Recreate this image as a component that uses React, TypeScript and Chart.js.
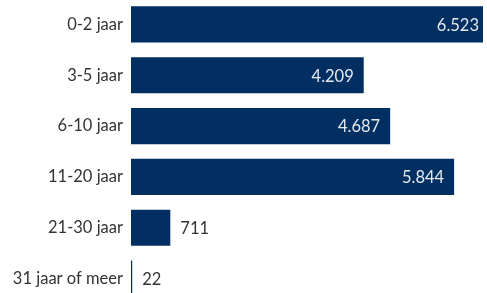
import React, { useEffect, useRef } from "react";
import { Chart, registerables } from "chart.js";

Chart.register(...registerables);

const categories = ["0-2 jaar", "3-5 jaar", "6-10 jaar", "11-20 jaar", "21-30 jaar", "31 jaar of meer"];
const values = [6523, 4209, 4687, 5844, 711, 22];
const valueLabels = ["6.523", "4.209", "4.687", "5.844", "711", "22"];

const BAR_COLOR = "#012f62";
const FONT = "Lato, 'Open Sans', sans-serif";
const FONT_SIZE = 16.5;

const labelPlugin = {
  id: "valueLabels",
  afterDatasetsDraw(chart: any) {
    const ctx = chart.ctx;
    const meta = chart.getDatasetMeta(0);
    const area = chart.chartArea;
    ctx.save();
    ctx.font = `${FONT_SIZE}px ${FONT}`;
    ctx.textBaseline = "middle";
    meta.data.forEach((bar: any, i: number) => {
      const text = valueLabels[i];
      const width = bar.x - bar.base;
      if (width > 80) {
        ctx.fillStyle = "#e4e8ef";
        ctx.textAlign = "right";
        const x = Math.min(bar.x - 10, area.right - 4);
        ctx.fillText(text, x, bar.y + 1);
      } else {
        ctx.fillStyle = "#333333";
        ctx.textAlign = "left";
        ctx.fillText(text, bar.x + 10, bar.y + 1);
      }
    });
    ctx.restore();
  },
};

export default function App() {
  const ref = useRef<HTMLCanvasElement>(null);
  useEffect(() => {
    if (!ref.current) return;
    const chart = new Chart(ref.current, {
      type: "bar",
      data: {
        labels: categories,
        datasets: [
          {
            data: values,
            backgroundColor: BAR_COLOR,
            borderWidth: 0,
            barPercentage: 0.71,
            categoryPercentage: 1,
          },
        ],
      },
      options: {
        indexAxis: "y",
        animation: false,
        responsive: true,
        maintainAspectRatio: false,
        layout: { padding: { top: 0, bottom: 0, left: 0, right: 4 } },
        plugins: { legend: { display: false }, tooltip: { enabled: false } },
        scales: {
          x: { display: false, min: 0, max: 6366 },
          y: {
            grid: { display: false, drawTicks: false },
            border: { display: false },
            ticks: {
              padding: 8,
              color: "#333333",
              font: { family: FONT, size: FONT_SIZE },
            },
            afterFit(scale: any) {
              scale.width = 131;
              scale.paddingTop = 0;
              scale.paddingBottom = 0;
            },
          },
        },
      },
      plugins: [labelPlugin],
    });
    return () => chart.destroy();
  }, []);
  return (
    <div style={{ position: "absolute", left: 0, top: -1, width: 487, height: 305 }}>
      <canvas ref={ref} />
    </div>
  );
}
